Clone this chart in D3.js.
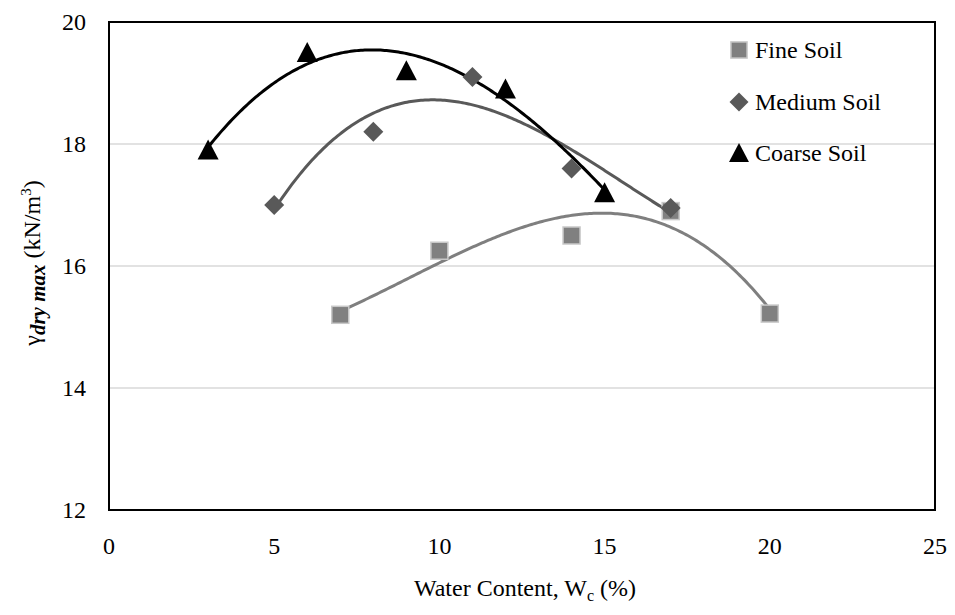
<!DOCTYPE html>
<html><head><meta charset="utf-8">
<script src="https://cdn.jsdelivr.net/npm/d3@7"></script>
<style>body{margin:0;background:#fff}</style>
</head><body><svg id="c" width="955" height="615"></svg>
<script>
const seriesNames = ["Fine Soil","Medium Soil","Coarse Soil"];
const fineX = [7,10,14,17,20];
const fineY = [15.2,16.25,16.5,16.9,15.22];
const mediumX = [5,8,11,14,17];
const mediumY = [17.0,18.2,19.1,17.6,16.95];
const coarseX = [3,6,9,12,15];
const coarseY = [17.9,19.5,19.2,18.9,17.2];
const xTicks = [0,5,10,15,20,25];
const yTicks = [12,14,16,18,20];

const svg = d3.select("#c");
const L=109,R=935,T=22,B=510;
const x = d3.scaleLinear().domain([0,25]).range([L,R]);
const y = d3.scaleLinear().domain([12,20]).range([B,T]);
const FS=24;
function txt(sel){ return sel.append("text").style("font-family","Liberation Serif").attr("fill","#000"); }

svg.append("g").selectAll("line").data(yTicks.filter(d=>d>12&&d<20)).join("line")
  .attr("x1",L).attr("x2",R).attr("y1",d=>y(d)).attr("y2",d=>y(d))
  .attr("stroke","#d9d9d9").attr("stroke-width",1.3);

function polyfit(xs, ys, n){
  const m=n+1; const A=[];
  for(let i=0;i<m;i++){A.push([]);for(let j=0;j<m;j++){A[i].push(d3.sum(xs,v=>Math.pow(v,i+j)));}A[i].push(d3.sum(xs,(v,k)=>Math.pow(v,i)*ys[k]));}
  for(let i=0;i<m;i++){let p=i;for(let r=i+1;r<m;r++)if(Math.abs(A[r][i])>Math.abs(A[p][i]))p=r;[A[i],A[p]]=[A[p],A[i]];
    for(let r=0;r<m;r++){if(r===i)continue;const f=A[r][i]/A[i][i];for(let c=i;c<=m;c++)A[r][c]-=f*A[i][c];}}
  return A.map((row,i)=>row[m]/row[i]);
}
function curve(xs,ys){
  const c=polyfit(xs,ys,3); const x0=d3.min(xs),x1=d3.max(xs);
  return d3.range(0,201).map(i=>{const t=x0+(x1-x0)*i/200;return [t,c[0]+c[1]*t+c[2]*t*t+c[3]*t*t*t];});
}
const line = d3.line().x(d=>x(d[0])).y(d=>y(d[1]));
const series = [
  {xs:fineX,ys:fineY,color:"#7f7f7f",marker:"square"},
  {xs:mediumX,ys:mediumY,color:"#595959",marker:"diamond"},
  {xs:coarseX,ys:coarseY,color:"#000000",marker:"triangle"}
];
function drawMarker(g,type,cx,cy,s){
  s = s||1;
  if(type==="square"){const h=8.5*s; g.append("rect").attr("x",cx-h).attr("y",cy-h).attr("width",2*h).attr("height",2*h).attr("fill","#808080").attr("stroke","#c8c8c8").attr("stroke-width",1.5);}
  else if(type==="diamond"){const h=10*s; g.append("path").attr("d",`M${cx},${cy-h}L${cx+h},${cy}L${cx},${cy+h}L${cx-h},${cy}Z`).attr("fill","#595959");}
  else {const h=10.5*s; g.append("path").attr("d",`M${cx},${cy-h}L${cx+h},${cy+h*0.9}L${cx-h},${cy+h*0.9}Z`).attr("fill","#000");}
}
series.forEach(s=>{
  svg.append("path").datum(curve(s.xs,s.ys)).attr("d",line).attr("fill","none").attr("stroke",s.color).attr("stroke-width",3);
});
series.forEach(s=>{
  const g=svg.append("g");
  s.xs.forEach((v,i)=>drawMarker(g,s.marker,x(v),y(s.ys[i])));
});

svg.append("rect").attr("x",L).attr("y",T).attr("width",R-L).attr("height",B-T).attr("fill","none").attr("stroke","#000").attr("stroke-width",2);

const gx=svg.append("g");
xTicks.forEach(d=>{ txt(gx).attr("x",x(d)).attr("y",B+44).attr("text-anchor","middle").attr("font-size",FS).text(d); });
const gy=svg.append("g");
yTicks.forEach(d=>{ txt(gy).attr("x",86).attr("y",y(d)+8).attr("text-anchor","end").attr("font-size",FS).text(d); });

const xt=txt(svg).attr("x",525).attr("y",596).attr("text-anchor","middle").attr("font-size",FS);
xt.append("tspan").text("Water Content, W");
xt.append("tspan").attr("font-size",16).attr("dy",5).text("c");
xt.append("tspan").attr("dy",-5).text(" (%)");

const yt=txt(svg).attr("transform","translate(40,263) rotate(-90)").attr("text-anchor","middle").attr("font-size",FS);
yt.append("tspan").text("γ");
yt.append("tspan").attr("font-size",21).attr("font-style","italic").attr("font-weight","bold").attr("dy",5).text("dry max");
yt.append("tspan").attr("dy",-5).text(" (kN/m");
yt.append("tspan").attr("font-size",15).attr("dy",-9).text("3");
yt.append("tspan").attr("dy",9).text(")");

const ly=[50,102,153];
series.forEach((s,i)=>{
  const g=svg.append("g");
  drawMarker(g,s.marker,739,ly[i],0.95);
  txt(g).attr("x",755).attr("y",ly[i]+8).attr("font-size",FS).text(seriesNames[i]);
});
</script></body></html>
